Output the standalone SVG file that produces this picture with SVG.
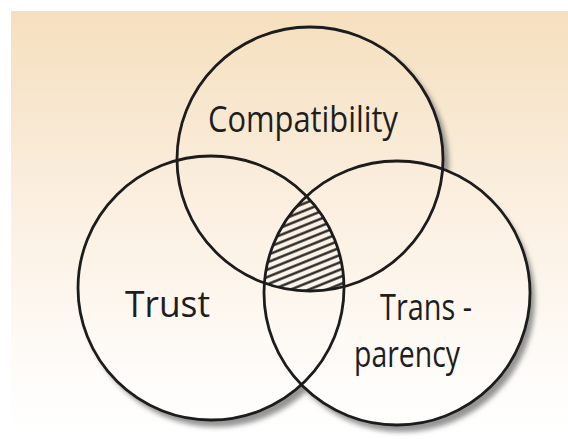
<svg xmlns="http://www.w3.org/2000/svg" width="568" height="439" viewBox="0 0 568 439">
  <defs>
    <linearGradient id="paper" gradientUnits="userSpaceOnUse" x1="0" y1="11" x2="0" y2="439">
      <stop offset="0" stop-color="#f5dfbe"/>
      <stop offset="0.45" stop-color="#fbefe0"/>
      <stop offset="0.85" stop-color="#fefcf9"/>
      <stop offset="1" stop-color="#ffffff"/>
    </linearGradient>
    <filter id="soft" x="-20%" y="-20%" width="140%" height="140%">
      <feGaussianBlur stdDeviation="2.8"/>
    </filter>
    <pattern id="hatch" patternUnits="userSpaceOnUse" width="12" height="6.8" patternTransform="rotate(-22)">
      <line x1="0" y1="3.4" x2="12" y2="3.4" stroke="#1e1e1e" stroke-width="2.3"/>
    </pattern>
    <clipPath id="clipTop"><ellipse cx="310" cy="159" rx="133" ry="132"/></clipPath>
    <clipPath id="clipLeft"><ellipse cx="211" cy="288" rx="133" ry="132"/></clipPath>
    <clipPath id="clipRight"><ellipse cx="397" cy="293" rx="133" ry="132"/></clipPath>
    <style>
      .ring { fill: none; stroke: #1c1c1c; stroke-width: 2.8; }
      .cut { fill: url(#paper); stroke: none; }
      .shade { fill: #7a7a7a; }
      .label { font-family: "Open Sans", "Liberation Sans", sans-serif; fill: #1e1e1e; font-size: 37px; }
    </style>
  </defs>

  <!-- page background -->
  <rect width="568" height="439" fill="#ffffff"/>
  <rect x="11" y="11" width="557" height="428" fill="url(#paper)"/>

  <!-- drop shadow of the cut-out circles -->
  <g filter="url(#soft)" opacity="0.8">
    <ellipse class="shade" cx="316" cy="165" rx="133" ry="132"/>
    <ellipse class="shade" cx="216" cy="295" rx="133" ry="132"/>
    <ellipse class="shade" cx="402" cy="300" rx="133" ry="132"/>
  </g>
  <g>
    <ellipse class="cut" cx="310" cy="159" rx="133" ry="132"/>
    <ellipse class="cut" cx="211" cy="288" rx="133" ry="132"/>
    <ellipse class="cut" cx="397" cy="293" rx="133" ry="132"/>
  </g>

  <!-- hatched centre where all three overlap -->
  <g id="overlap" clip-path="url(#clipTop)">
    <g clip-path="url(#clipLeft)">
      <g clip-path="url(#clipRight)">
        <rect x="250" y="180" width="110" height="120" fill="url(#hatch)"/>
      </g>
    </g>
  </g>

  <g id="compatibility">
    <ellipse class="ring" cx="310" cy="159" rx="133" ry="132"/>
    <text class="label" x="208" y="132" font-size="46" textLength="190" lengthAdjust="spacingAndGlyphs">Compatibility</text>
  </g>

  <g id="trust">
    <ellipse class="ring" cx="211" cy="288" rx="133" ry="132"/>
    <text class="label" x="125" y="317" textLength="85" lengthAdjust="spacingAndGlyphs">Trust</text>
  </g>

  <g id="transparency">
    <ellipse class="ring" cx="397" cy="293" rx="133" ry="132"/>
    <text class="label" x="380" y="320" textLength="92" lengthAdjust="spacingAndGlyphs">Trans -</text>
    <text class="label" x="354" y="367" textLength="106" lengthAdjust="spacingAndGlyphs">parency</text>
  </g>
</svg>
